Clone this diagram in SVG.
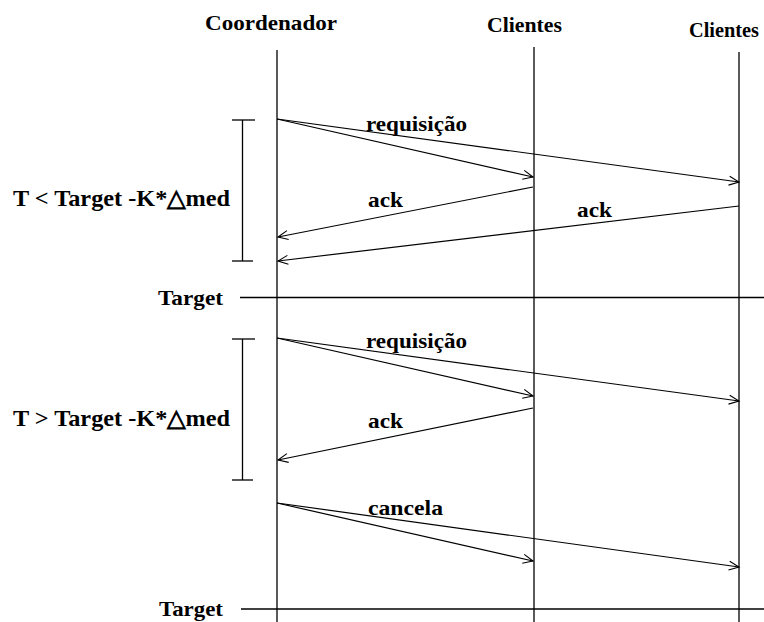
<svg xmlns="http://www.w3.org/2000/svg" width="764" height="622" viewBox="0 0 764 622">
<style>
  .t { font-family: "Liberation Serif", "Times New Roman", serif; font-weight: bold; fill: #000; }
  .line { stroke: #000; stroke-width: 1.3; fill: none; }
  .msg { stroke: #000; stroke-width: 1.2; fill: none; marker-end: url(#open); }
</style>
<defs>
  <marker id="open" markerUnits="userSpaceOnUse" markerWidth="14" markerHeight="14" viewBox="-12 -7 14 14" refX="0" refY="0" orient="auto">
    <path d="M-10,-4.5 L0,0 L-10,4.5" stroke="#000" stroke-width="1.1" fill="none"/>
  </marker>
</defs>
<rect width="764" height="622" fill="#fff"/>

<g id="coordenador">
  <text class="t" x="205" y="30" font-size="22" textLength="132" lengthAdjust="spacingAndGlyphs">Coordenador</text>
  <line class="line" x1="277" y1="50" x2="277" y2="622"/>
</g>
<g id="clientes1">
  <text class="t" x="487" y="32" font-size="22" textLength="75" lengthAdjust="spacingAndGlyphs">Clientes</text>
  <line class="line" x1="534" y1="47" x2="534" y2="622"/>
</g>
<g id="clientes2">
  <text class="t" x="689" y="37" font-size="21" textLength="70" lengthAdjust="spacingAndGlyphs">Clientes</text>
  <line class="line" x1="739" y1="52" x2="739" y2="622"/>
</g>

<g id="intervalo1">
  <line class="line" x1="242.5" y1="120" x2="242.5" y2="261"/>
  <line class="line" x1="232" y1="120" x2="255" y2="120"/>
  <line class="line" x1="232" y1="261" x2="253" y2="261"/>
  <text class="t" x="13" y="206" font-size="24" textLength="217" lengthAdjust="spacingAndGlyphs">T &lt; Target -K*△med</text>
</g>
<g id="target1">
  <text class="t" x="158" y="305" font-size="22" textLength="65" lengthAdjust="spacingAndGlyphs">Target</text>
  <line class="line" x1="240" y1="297.5" x2="764" y2="297.5"/>
</g>
<g id="intervalo2">
  <line class="line" x1="242.5" y1="339" x2="242.5" y2="480"/>
  <line class="line" x1="232" y1="339" x2="255" y2="339"/>
  <line class="line" x1="232" y1="480" x2="253" y2="480"/>
  <text class="t" x="13" y="426" font-size="24" textLength="217" lengthAdjust="spacingAndGlyphs">T &gt; Target -K*△med</text>
</g>
<g id="target2">
  <text class="t" x="159" y="616" font-size="22" textLength="64" lengthAdjust="spacingAndGlyphs">Target</text>
  <line class="line" x1="241" y1="609" x2="764" y2="609"/>
</g>

<g id="connectors">
  <line class="msg" x1="277" y1="119" x2="533" y2="177"/>
  <line class="msg" x1="277" y1="119" x2="739" y2="182"/>
  <line class="msg" x1="533" y1="187" x2="278" y2="237"/>
  <line class="msg" x1="739" y1="206" x2="278" y2="261"/>
  <line class="msg" x1="277" y1="338" x2="533" y2="396"/>
  <line class="msg" x1="277" y1="338" x2="739" y2="401"/>
  <line class="msg" x1="533" y1="408" x2="278" y2="460"/>
  <line class="msg" x1="277" y1="503" x2="533" y2="561"/>
  <line class="msg" x1="277" y1="503" x2="739" y2="567"/>
  <text class="t" x="366" y="131" font-size="22" textLength="101" lengthAdjust="spacingAndGlyphs">requisição</text>
  <text class="t" x="368" y="207" font-size="22" textLength="35" lengthAdjust="spacingAndGlyphs">ack</text>
  <text class="t" x="577" y="217" font-size="22" textLength="35" lengthAdjust="spacingAndGlyphs">ack</text>
  <text class="t" x="366" y="348" font-size="22" textLength="101" lengthAdjust="spacingAndGlyphs">requisição</text>
  <text class="t" x="368" y="428" font-size="22" textLength="35" lengthAdjust="spacingAndGlyphs">ack</text>
  <text class="t" x="368" y="515" font-size="22" textLength="75" lengthAdjust="spacingAndGlyphs">cancela</text>
</g>
</svg>
